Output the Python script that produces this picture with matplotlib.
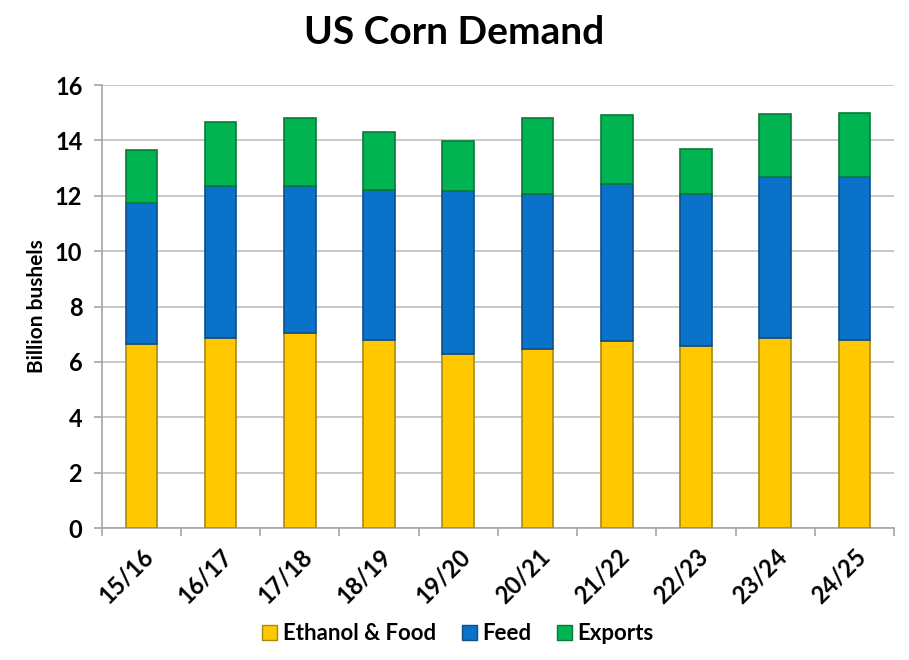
import numpy as np
import matplotlib
matplotlib.use("Agg")
import matplotlib.pyplot as plt
from matplotlib.patches import Patch

# Marketing years
years = ["15/16", "16/17", "17/18", "18/19", "19/20",
         "20/21", "21/22", "22/23", "23/24", "24/25"]

# Billion bushels
ethanol_food = [6.64, 6.87, 7.05, 6.79, 6.28, 6.46, 6.76, 6.57, 6.85, 6.81]
feed = [5.10, 5.50, 5.32, 5.41, 5.90, 5.62, 5.66, 5.48, 5.83, 5.87]
exports = [1.91, 2.29, 2.46, 2.10, 1.79, 2.75, 2.49, 1.66, 2.29, 2.32]

plt.rcParams['font.family'] = ['Lato', 'DejaVu Sans']
plt.rcParams['font.weight'] = 'bold'

fig = plt.figure(figsize=(9.09, 6.6), dpi=100)
ax = fig.add_axes([0.112, 0.2, 0.8715, 0.671])

x = np.arange(len(years))
w = 0.4
eth = np.array(ethanol_food)
fd = np.array(feed)

ax.bar(x, eth, w, color="#FFC800", edgecolor="#A88A10", linewidth=1.2, zorder=3)
ax.bar(x, fd, w, bottom=eth, color="#0A72C8", edgecolor="#0B4F8C", linewidth=1.2, zorder=3)
ax.bar(x, exports, w, bottom=eth + fd, color="#00B451", edgecolor="#0A7A3A", linewidth=1.2, zorder=3)

ax.set_xlim(-0.5, len(years) - 0.5)
ax.set_ylim(0, 16)
ax.set_yticks(range(0, 17, 2))
ax.yaxis.grid(True, color="#BFBFBF", linewidth=1.2, zorder=0)

ax.set_xticks(x)
ax.set_xticklabels(years, rotation=45, ha="right", rotation_mode="anchor",
                   fontsize=17, fontweight="bold")
ax.set_xticks(np.arange(-0.5, len(years)), minor=True)
ax.tick_params(axis="x", which="major", length=0, pad=12)
ax.tick_params(axis="x", which="minor", length=6, color="#A6A6A6", width=1.2)
ax.tick_params(axis="y", length=6, color="#A6A6A6", width=1.2, labelsize=17, pad=8)
for lbl in ax.get_yticklabels():
    lbl.set_fontweight("bold")

for s in ["top", "right"]:
    ax.spines[s].set_visible(False)
for s in ["left", "bottom"]:
    ax.spines[s].set_color("#A6A6A6")
    ax.spines[s].set_linewidth(1.2)

ax.set_ylabel("Billion bushels", fontsize=15, fontweight="bold", labelpad=6)

fig.suptitle("US Corn Demand", fontsize=28, fontweight="bold", y=0.978)

handles = [Patch(facecolor="#FFC800", edgecolor="#A88A10"),
           Patch(facecolor="#0A72C8", edgecolor="#0B4F8C"),
           Patch(facecolor="#00B451", edgecolor="#0A7A3A")]
fig.legend(handles, ["Ethanol & Food", "Feed", "Exports"], loc="center",
           bbox_to_anchor=(0.504, 0.04), ncol=3, frameon=False,
           prop={"size": 16, "weight": "bold"}, handlelength=0.68,
           handleheight=0.68, handletextpad=0.25, columnspacing=1.15)

fig.savefig("out.png", dpi=100)
